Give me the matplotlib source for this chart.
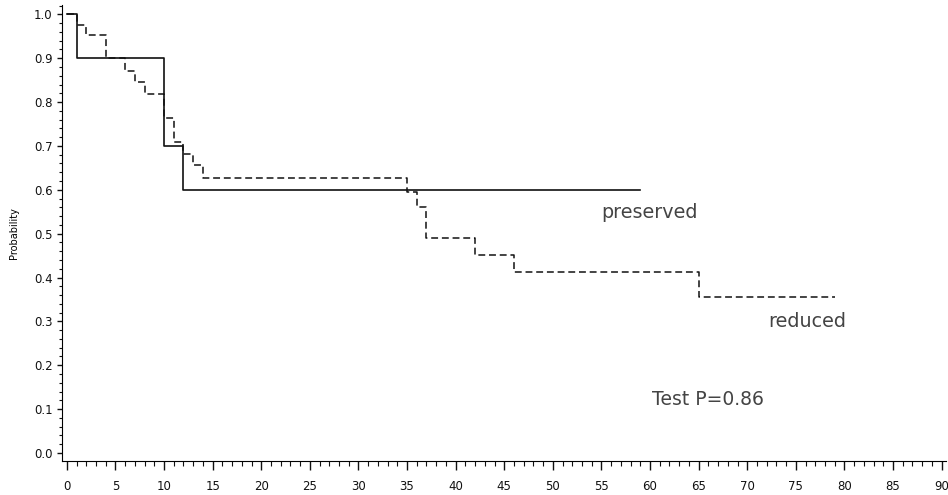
import matplotlib
matplotlib.use("Agg")
import matplotlib.pyplot as plt
from matplotlib.ticker import MultipleLocator

# Kaplan-Meier step data (time in months, survival probability)
preserved_t = [0, 1, 10, 12, 59]
preserved_p = [1.0, 0.9, 0.7, 0.6, 0.6]

reduced_t = [0, 1, 2, 4, 6, 7, 8, 10, 11, 12, 13, 14, 35, 36, 37, 42, 46, 65, 79]
reduced_p = [1.0, 0.975, 0.952, 0.90, 0.871, 0.846, 0.818, 0.764, 0.708,
             0.682, 0.656, 0.627, 0.596, 0.560, 0.489, 0.452, 0.413, 0.356, 0.356]

plt.rcParams['font.family'] = ['DejaVu Sans']

fig = plt.figure(figsize=(9.48, 4.95), dpi=100)
ax = fig.add_axes([0.0654, 0.0689, 0.933, 0.9208])

ax.step(preserved_t, preserved_p, where='post', color='#111111', lw=1.2)
ax.step(reduced_t, reduced_p, where='post', color='#111111', lw=1.1,
        linestyle=(0, (4.5, 2.5)))

ax.text(55.0, 0.549, "preserved", fontsize=13.8, color='#444444', va='center')
ax.text(72.2, 0.299, "reduced", fontsize=13.8, color='#444444', va='center')
ax.text(60.2, 0.121, "Test P=0.86", fontsize=13.5, color='#444444', va='center')

ax.set_xlim(-0.5, 90.5)
ax.set_ylim(-0.018, 1.021)

ax.spines['top'].set_visible(False)
ax.spines['right'].set_visible(False)

ax.xaxis.set_major_locator(MultipleLocator(5))
ax.xaxis.set_minor_locator(MultipleLocator(1))
ax.yaxis.set_major_locator(MultipleLocator(0.1))
ax.yaxis.set_minor_locator(MultipleLocator(0.02))
ax.yaxis.set_major_formatter(lambda v, pos: f"{v:.1f}")

ax.tick_params(axis='both', which='both', labelsize=8.5, colors='#111111')
ax.tick_params(axis='x', which='major', length=6.5, width=1, pad=7)
ax.tick_params(axis='x', which='minor', length=3.5, width=0.8)
ax.tick_params(axis='y', which='major', length=3.8, width=1, pad=3)
ax.tick_params(axis='y', which='minor', length=2.2, width=0.8)

ax.set_ylabel("Probability", fontsize=7, labelpad=11)

fig.savefig("out.png", dpi=100)
plt.close(fig)
